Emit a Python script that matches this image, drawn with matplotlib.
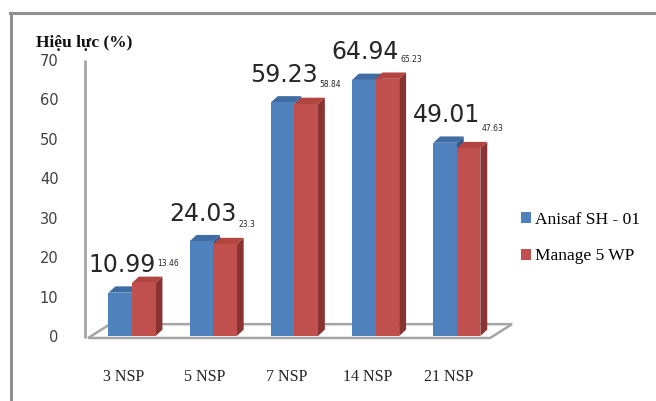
import numpy as np
import matplotlib
matplotlib.use("Agg")
import matplotlib.pyplot as plt
from matplotlib.patches import Polygon
from matplotlib.lines import Line2D

# efficacy (%) by days after spraying
days = ["3 NSP", "5 NSP", "7 NSP", "14 NSP", "21 NSP"]
anisaf = [10.99, 24.03, 59.23, 64.94, 49.01]
manage = [13.46, 23.3, 58.84, 65.23, 47.63]
series_names = ["Anisaf SH - 01", "Manage 5 WP"]
yticks = [0, 10, 20, 30, 40, 50, 60, 70]

blue = ("#4F81BD", "#3E6CA3", "#35588A")     # front, top, side
red = ("#C0504D", "#B2453F", "#8A3432")

fig = plt.figure(figsize=(6.56, 4.01), dpi=100)
W, H = 656, 401

# axes placed so one category step ~81 px, 10 units ~39 px
x0, x1 = -0.7, 4.7
y0, y1 = -3.0, 72.0
px_l, px_r = 132 + x0 * 81.2, 132 + x1 * 81.2
px_b, px_t = 336 - y0 * 3.943, 336 - y1 * 3.943
ax = fig.add_axes([px_l / W, 1 - px_b / H, (px_r - px_l) / W, (px_b - px_t) / H])
ax.set_xlim(x0, x1)
ax.set_ylim(y0, y1)
for s in ax.spines.values():
    s.set_visible(False)

w = 0.29      # bar width
dx = 0.085    # depth offset in x
dy = 1.6      # depth offset in y
x = np.arange(len(days))

# floor
floor = Polygon([(-0.54, -0.5), (-0.27, 3.0), (4.68, 3.0), (4.41, -0.5)],
                closed=True, facecolor="white", edgecolor="#A6A6A6", lw=1.8, zorder=1)
ax.add_patch(floor)
# vertical axis line
ax.plot([-0.58, -0.58], [-0.5, 70], color="#A6A6A6", lw=2, zorder=1,
        solid_capstyle="butt")


def box(left, v, cols, z):
    right = left + w
    ax.add_patch(Polygon([(right, 0), (right + dx, dy), (right + dx, v + dy), (right, v)],
                         closed=True, facecolor=cols[2], edgecolor="none", zorder=z))
    ax.add_patch(Polygon([(left, v), (left + dx, v + dy), (right + dx, v + dy), (right, v)],
                         closed=True, facecolor=cols[1], edgecolor="none", zorder=z))


for i in range(len(days)):
    box(x[i] - w, anisaf[i], blue, 2)
    box(x[i], manage[i], red, 4)

ax.bar(x - w, anisaf, width=w, align="edge", color=blue[0], zorder=3, label=series_names[0])
ax.bar(x, manage, width=w, align="edge", color=red[0], zorder=5, label=series_names[1])

# value labels
for i in range(len(days)):
    ax.text(x[i] - w / 2 + 0.02, anisaf[i] + 7.0, f"{anisaf[i]:g}", ha="center", va="center",
            fontsize=17, color="#262626", zorder=6)
    ax.text(x[i] + 0.31, manage[i] + 5.0, f"{manage[i]:g}", ha="left", va="center",
            fontsize=5.5, color="#262626", zorder=6)

ax.set_yticks(yticks)
ax.set_yticklabels([str(t) for t in yticks], fontsize=10.5, color="#404040")
ax.set_xticks(x - 0.1)
ax.set_xticklabels(days, fontname="Liberation Serif", fontsize=11.5, color="#222222")
ax.tick_params(axis="y", length=0, pad=12)
ax.tick_params(axis="x", length=0, pad=15)

fig.text(36 / W, 1 - 43 / H, "Hiệu lực (%)", fontname="Liberation Serif", fontweight="bold",
         fontsize=12.5, ha="left", va="center", color="#111111")

fig.legend(loc="center left", bbox_to_anchor=(505 / W, 1 - 238 / H), frameon=False,
           prop={"family": "Liberation Serif", "size": 12.5}, handlelength=0.6,
           handleheight=0.6, handletextpad=0.2, labelspacing=1.2)

# outer frame
fig.add_artist(Line2D([10 / W, 1], [1 - 13 / H, 1 - 13 / H], color="#8F8F8F", lw=2.2,
                      transform=fig.transFigure))
fig.add_artist(Line2D([11 / W, 11 / W], [1 - 13 / H, 0], color="#8F8F8F", lw=2.2,
                      transform=fig.transFigure))

fig.savefig("out.png", dpi=100)
